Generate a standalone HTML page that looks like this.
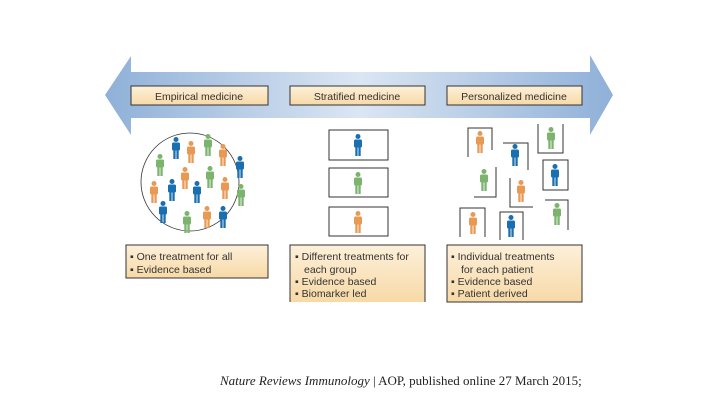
<!DOCTYPE html><html><head><style>body{margin:0;background:#fff}svg{display:block}</style></head><body>
<svg width="720" height="405" viewBox="0 0 720 405" xmlns="http://www.w3.org/2000/svg" font-family="Liberation Sans, sans-serif">
<defs>
<linearGradient id="g" x1="0" x2="1"><stop offset="0" stop-color="#8fb0d8"/><stop offset="0.5" stop-color="#dbe6f3"/><stop offset="1" stop-color="#8fb0d8"/></linearGradient>
<linearGradient id="b" x1="0" y1="0" x2="0" y2="1"><stop offset="0" stop-color="#fdf0da"/><stop offset="1" stop-color="#f7d9a6"/></linearGradient>
<symbol id="p" viewBox="0 0 10 22" overflow="visible"><circle cx="5" cy="2.5" r="2.5"/><rect x="1" y="5.5" width="8" height="8" rx="1.5"/><rect x="2.3" y="12" width="2.3" height="10"/><rect x="5.4" y="12" width="2.3" height="10"/></symbol>
</defs>
<path d="M105 95 L131 56 L131 72 L590 72 L590 55 L613 95 L590 135 L590 118 L131 118 L131 135 Z" fill="url(#g)"/>
<g stroke="#333" stroke-width="1" fill="url(#b)" font-size="10.5" text-anchor="middle">
<rect x="131" y="86" width="137" height="19"/><rect x="290" y="86" width="135" height="19"/><rect x="447" y="86" width="135" height="19"/>
</g>
<g font-size="10.5" fill="#333" text-anchor="middle"><text x="199" y="100">Empirical medicine</text><text x="357" y="100">Stratified medicine</text><text x="514" y="100">Personalized medicine</text></g>
<circle cx="190" cy="182" r="49" fill="none" stroke="#333" stroke-width="0.8"/>
<g>
<use href="#p" x="171" y="137" width="10" height="22" fill="#1a6fb0"/>
<use href="#p" x="186" y="141" width="10" height="22" fill="#e89a55"/>
<use href="#p" x="203" y="134" width="10" height="22" fill="#7cb46e"/>
<use href="#p" x="218" y="144" width="10" height="22" fill="#e89a55"/>
<use href="#p" x="235" y="156" width="10" height="22" fill="#1a6fb0"/>
<use href="#p" x="155" y="154" width="10" height="22" fill="#7cb46e"/>
<use href="#p" x="205" y="166" width="10" height="22" fill="#7cb46e"/>
<use href="#p" x="180" y="167" width="10" height="22" fill="#e89a55"/>
<use href="#p" x="167" y="179" width="10" height="22" fill="#1a6fb0"/>
<use href="#p" x="192" y="181" width="10" height="22" fill="#1a6fb0"/>
<use href="#p" x="220" y="177" width="10" height="22" fill="#e89a55"/>
<use href="#p" x="149" y="181" width="10" height="22" fill="#e89a55"/>
<use href="#p" x="236" y="184" width="10" height="22" fill="#7cb46e"/>
<use href="#p" x="158" y="201" width="10" height="22" fill="#1a6fb0"/>
<use href="#p" x="182" y="211" width="10" height="22" fill="#7cb46e"/>
<use href="#p" x="202" y="206" width="10" height="22" fill="#e89a55"/>
<use href="#p" x="218" y="206" width="10" height="22" fill="#1a6fb0"/>
</g>
<g fill="none" stroke="#333" stroke-width="1">
<rect x="329" y="130" width="59" height="30"/><rect x="329" y="168" width="59" height="29"/><rect x="329" y="207" width="59" height="29"/>
<path d="M468 157V128H492V150"/>
<path d="M538 124V153H563V124"/>
<path d="M503 143H528V170"/>
<rect x="543" y="160" width="25" height="30"/>
<path d="M496 167V197H474"/>
<path d="M510 178V207H533"/>
<path d="M545 200H568V230"/>
<path d="M460 237V208H485V237"/>
<path d="M500 240V212H523V240"/>
</g>
<use href="#p" x="353" y="134" width="10" height="22" fill="#1a6fb0"/>
<use href="#p" x="353" y="172" width="10" height="22" fill="#7cb46e"/>
<use href="#p" x="353" y="211" width="10" height="22" fill="#e89a55"/>
<use href="#p" x="475" y="131" width="10" height="22" fill="#e89a55"/>
<use href="#p" x="546" y="127" width="10" height="22" fill="#7cb46e"/>
<use href="#p" x="510" y="144" width="10" height="22" fill="#1a6fb0"/>
<use href="#p" x="550" y="164" width="10" height="22" fill="#1a6fb0"/>
<use href="#p" x="479" y="169" width="10" height="22" fill="#7cb46e"/>
<use href="#p" x="516" y="180" width="10" height="22" fill="#e89a55"/>
<use href="#p" x="552" y="203" width="10" height="22" fill="#7cb46e"/>
<use href="#p" x="468" y="212" width="10" height="22" fill="#e89a55"/>
<use href="#p" x="506" y="215" width="10" height="22" fill="#1a6fb0"/>
<g stroke="#333" stroke-width="1" fill="url(#b)">
<rect x="126" y="245" width="142" height="33"/>
<path d="M290 302V245H425V302" />
<rect x="447" y="245" width="135" height="57"/>
</g>
<g font-size="10.5" fill="#333">
<text x="130" y="260">▪ One treatment for all</text><text x="130" y="273">▪ Evidence based</text>
<text x="295" y="260">▪ Different treatments for</text><text x="304" y="273">each group</text><text x="295" y="285">▪ Evidence based</text><text x="295" y="297">▪ Biomarker led</text>
<text x="451" y="260">▪ Individual treatments</text><text x="461" y="273">for each patient</text><text x="451" y="285">▪ Evidence based</text><text x="451" y="297">▪ Patient derived</text>
</g>
<text x="220" y="385" font-family="Liberation Serif, serif" font-size="13" fill="#222"><tspan font-style="italic">Nature Reviews Immunology</tspan> | AOP, published online 27 March 2015;</text>
</svg>
</body></html>
